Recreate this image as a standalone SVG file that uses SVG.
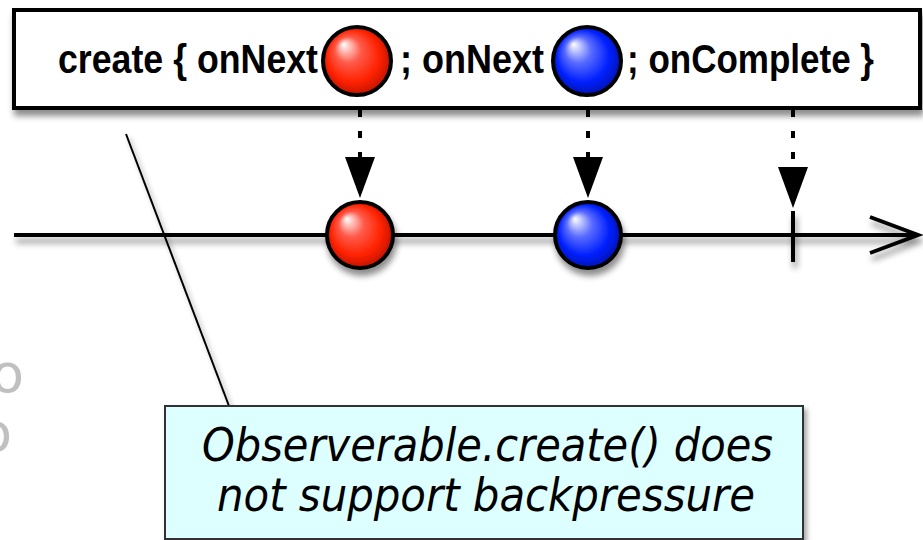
<svg xmlns="http://www.w3.org/2000/svg" width="923" height="540" viewBox="0 0 923 540">
<defs>
<filter id="sh" filterUnits="userSpaceOnUse" x="0" y="0" width="923" height="540">
<feDropShadow dx="2" dy="6" stdDeviation="3" flood-color="#000" flood-opacity="0.45"/>
</filter>
<filter id="shs" filterUnits="userSpaceOnUse" x="0" y="0" width="923" height="540">
<feDropShadow dx="3" dy="4" stdDeviation="2.5" flood-color="#000" flood-opacity="0.35"/>
</filter>
<radialGradient id="red" cx="0.5" cy="0.5" r="0.55" fx="0.3" fy="0.25">
<stop offset="0" stop-color="#ffffff"/>
<stop offset="0.35" stop-color="#ff5a4a"/>
<stop offset="0.7" stop-color="#ff2200"/>
<stop offset="1" stop-color="#b31000"/>
</radialGradient>
<radialGradient id="blue" cx="0.5" cy="0.5" r="0.55" fx="0.3" fy="0.25">
<stop offset="0" stop-color="#ffffff"/>
<stop offset="0.35" stop-color="#5a6cff"/>
<stop offset="0.7" stop-color="#0020ff"/>
<stop offset="1" stop-color="#0010a0"/>
</radialGradient>
<style>
.hdr{font-family:"Liberation Sans",Arial,sans-serif;font-weight:bold;font-size:40px;fill:#000}
.note{font-family:"DejaVu Sans Condensed","DejaVu Sans",sans-serif;font-style:italic;font-size:47px;fill:#000}
.ghost{font-family:"DejaVu Sans",sans-serif;font-size:54px;fill:#c0c0c0}
.dot{stroke:#000;stroke-width:4;stroke-dasharray:7 14;fill:none}
.head{fill:#000}
.ball{stroke:#000;stroke-width:4}
</style>
</defs>

<g id="background-text">
<text class="ghost" x="-9" y="392">o</text>
<text class="ghost" x="-21" y="451">o</text>
</g>

<g id="connectors">
<g filter="url(#sh)">
<line x1="14" y1="235" x2="917" y2="235" stroke="#000" stroke-width="4"/>
<polyline points="870,217 918,235 870,253" fill="none" stroke="#000" stroke-width="4"/>
</g>
<line class="dot" x1="360" y1="110" x2="360" y2="157"/>
<polygon class="head" points="345,157 375,157 360,198"/>
<line class="dot" x1="588" y1="110" x2="588" y2="157"/>
<polygon class="head" points="573,157 603,157 588,198"/>
<line class="dot" x1="793" y1="110" x2="793" y2="167"/>
<polygon class="head" points="778,167 808,167 793,208"/>
<line x1="126" y1="134" x2="229" y2="406" stroke="#000" stroke-width="2" filter="url(#shs)"/>
</g>

<g id="create-box">
<rect x="14" y="10" width="906" height="98" fill="#fff" stroke="#000" stroke-width="4" filter="url(#sh)"/>
<text class="hdr" x="58" y="73" textLength="260" lengthAdjust="spacingAndGlyphs">create { onNext</text>
<circle class="ball" cx="357" cy="61" r="34" fill="url(#red)"/>
<text class="hdr" x="400" y="73" textLength="144" lengthAdjust="spacingAndGlyphs">; onNext</text>
<circle class="ball" cx="587" cy="61" r="34" fill="url(#blue)"/>
<text class="hdr" x="627" y="73" textLength="247" lengthAdjust="spacingAndGlyphs">; onComplete }</text>
</g>

<g id="red-item">
<circle class="ball" cx="360" cy="235" r="33" fill="url(#red)" filter="url(#sh)"/>
</g>
<g id="blue-item">
<circle class="ball" cx="588" cy="235" r="33" fill="url(#blue)" filter="url(#sh)"/>
</g>
<g id="complete-tick">
<line x1="793" y1="211" x2="793" y2="262" stroke="#000" stroke-width="4" filter="url(#sh)"/>
</g>

<g id="note">
<rect x="165" y="406" width="638" height="133" fill="#ddffff" stroke="#333" stroke-width="2" filter="url(#shs)"/>
<text class="note" x="202" y="461" textLength="571" lengthAdjust="spacingAndGlyphs">Observerable.create() does</text>
<text class="note" x="217" y="511" textLength="538" lengthAdjust="spacingAndGlyphs">not support backpressure</text>
</g>
</svg>
